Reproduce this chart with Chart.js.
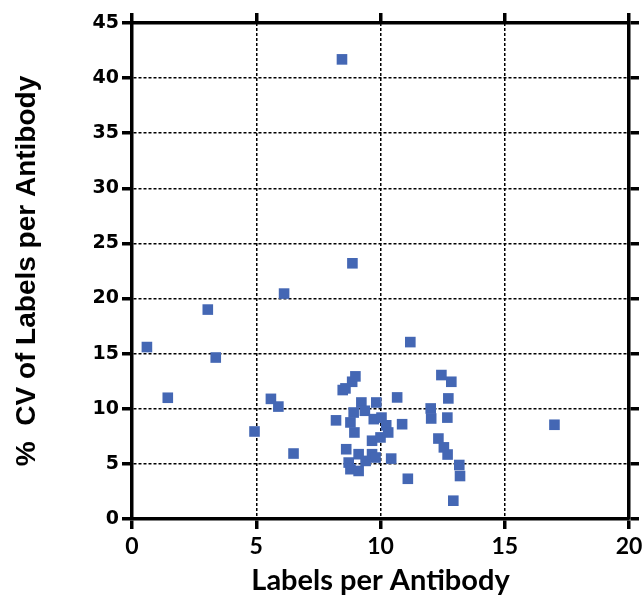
<!DOCTYPE html>
<html>
<head>
<meta charset="utf-8">
<script src="https://cdn.jsdelivr.net/npm/chart.js@4"></script>
<style>
html,body{margin:0;padding:0;background:#fff;}
#wrap{width:642px;height:596px;}
</style>
</head>
<body>
<div id="wrap"><canvas id="c" width="642" height="596"></canvas></div>
<script>
const xValues = [0.6, 1.44, 3.05, 3.37, 4.93, 5.59, 5.89, 6.12, 6.5, 8.21, 8.45, 8.48, 8.59, 8.62, 8.72, 8.79, 8.79, 8.86, 8.87, 8.92, 8.95, 8.99, 9.12, 9.12, 9.23, 9.37, 9.4, 9.66, 9.66, 9.73, 9.8, 9.83, 10.0, 10.04, 10.23, 10.31, 10.43, 10.67, 10.87, 11.1, 11.2, 12.02, 12.04, 12.33, 12.45, 12.55, 12.69, 12.7, 12.73, 12.85, 12.93, 13.17, 13.2, 17.0];
const yValues = [15.6, 11.0, 19.0, 14.65, 7.94, 10.9, 10.2, 20.45, 5.94, 8.95, 41.7, 11.7, 11.85, 6.33, 5.12, 4.52, 8.76, 12.45, 23.2, 9.66, 7.85, 12.94, 5.88, 4.36, 10.57, 9.82, 5.27, 7.1, 5.88, 9.06, 5.58, 10.57, 7.4, 9.2, 8.5, 7.85, 5.48, 11.03, 8.6, 3.65, 16.05, 10.03, 9.12, 7.3, 13.06, 6.5, 9.2, 5.85, 10.94, 12.45, 1.66, 4.9, 3.9, 8.55];
const xTickValues = [0, 5, 10, 15, 20];
const yTickValues = [0, 5, 10, 15, 20, 25, 30, 35, 40, 45];
const xTitle = 'Labels per Antibody';
const yTitle = '%  CV of Labels per Antibody';

const points = xValues.map((x, i) => ({x: x, y: yValues[i]}));

const gridCommon = {
  color: '#000',
  lineWidth: 1.5,
  tickColor: '#000',
  tickWidth: 3.5,
  tickLength: 10,
  tickBorderDash: [],
  drawTicks: true
};
const borderCommon = {display: true, color: '#000', width: 3.5, dash: [3, 2]};

new Chart(document.getElementById('c'), {
  type: 'scatter',
  data: {
    datasets: [{
      data: points,
      pointStyle: 'rect',
      pointRadius: 7.5,
      pointHoverRadius: 7.5,
      backgroundColor: '#4467b4',
      borderColor: '#4467b4',
      borderWidth: 0
    }]
  },
  options: {
    responsive: false,
    animation: false,
    devicePixelRatio: 1,
    layout: {padding: 0},
    plugins: {legend: {display: false}, tooltip: {enabled: false}},
    scales: {
      x: {
        type: 'linear', position: 'bottom', min: 0, max: 20,
        afterBuildTicks: s => { s.ticks = xTickValues.map(v => ({value: v})); },
        ticks: {color: '#000', padding: 4, font: {family: 'Lato', weight: 'bold', size: 23}},
        grid: Object.assign({}, gridCommon),
        border: Object.assign({}, borderCommon),
        title: {display: true, text: xTitle, color: '#000', padding: {top: 0, bottom: 1}, font: {family: 'Lato', weight: 'bold', size: 29, lineHeight: 1}},
        afterFit: s => { s.height = 77; s.paddingLeft = 0; s.paddingRight = 0; }
      },
      y: {
        type: 'linear', position: 'left', min: 0, max: 45,
        afterBuildTicks: s => { s.ticks = yTickValues.map(v => ({value: v})); },
        ticks: {color: '#000', padding: 3, font: {family: 'DejaVu Sans', weight: 'bold', size: 19}},
        grid: Object.assign({}, gridCommon),
        border: Object.assign({}, borderCommon),
        title: {display: true, text: yTitle, color: '#000', padding: {top: 13, bottom: 0}, font: {family: 'Liberation Sans', weight: 'bold', size: 28, lineHeight: 1}},
        afterFit: s => { s.width = 132; s.paddingTop = 0; s.paddingBottom = 0; }
      },
      x2: {
        type: 'linear', position: 'top', min: 0, max: 20,
        afterBuildTicks: s => { s.ticks = xTickValues.map(v => ({value: v})); },
        ticks: {display: false},
        grid: Object.assign({}, gridCommon, {drawOnChartArea: false}),
        border: Object.assign({}, borderCommon),
        afterFit: s => { s.height = 23; s.paddingLeft = 0; s.paddingRight = 0; }
      },
      y2: {
        type: 'linear', position: 'right', min: 0, max: 45,
        afterBuildTicks: s => { s.ticks = yTickValues.map(v => ({value: v})); },
        ticks: {display: false},
        grid: Object.assign({}, gridCommon, {drawOnChartArea: false}),
        border: Object.assign({}, borderCommon),
        afterFit: s => { s.width = 13; s.paddingTop = 0; s.paddingBottom = 0; }
      }
    }
  }
});
</script>
</body>
</html>
